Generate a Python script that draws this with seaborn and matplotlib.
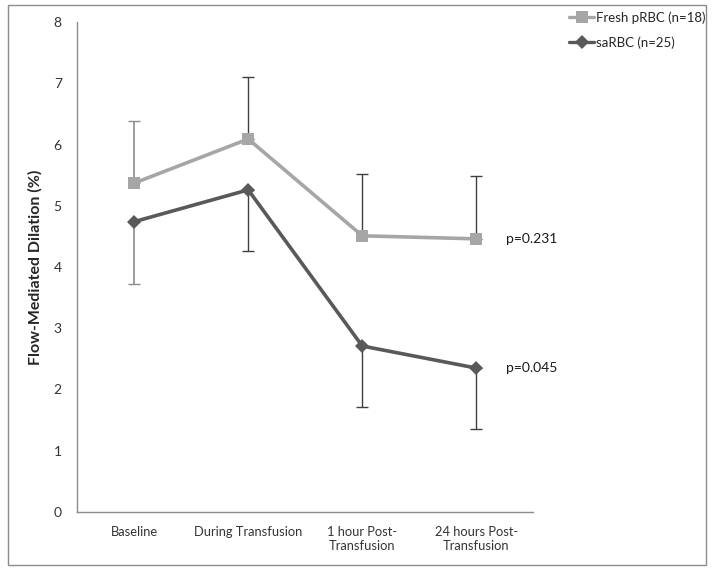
import numpy as np
import pandas as pd
import seaborn as sns
import matplotlib.pyplot as plt
from matplotlib.patches import Rectangle

sns.set_style("white")
plt.rcParams['font.family'] = ['Lato', 'DejaVu Sans']

stages = ["Baseline", "During Transfusion", "1 hour Post-\nTransfusion", "24 hours Post-\nTransfusion"]
fresh = [5.37, 6.09, 4.51, 4.46]
fresh_err = [1.02, 1.02, 1.01, 1.03]
sarbc = [4.74, 5.26, 2.71, 2.35]
sarbc_err = [1.01, 1.0, 1.0, 1.0]
groups = ["Fresh pRBC (n=18)", "saRBC (n=25)"]
pvals = ["p=0.231", "p=0.045"]

df = pd.DataFrame({
    "stage": stages * 2,
    "fmd": fresh + sarbc,
    "group": [groups[0]] * 4 + [groups[1]] * 4,
})

fig = plt.figure(figsize=(7.14, 5.73), dpi=100)
ax = fig.add_axes([0.108, 0.1065, 0.639, 0.855])

# outer chart border like the excel chart area
fig.patches.append(Rectangle((0.011, 0.014), 0.978, 0.977, transform=fig.transFigure,
                             fill=False, edgecolor="#8c8c8c", linewidth=1.0))

xpos = np.arange(len(stages))
# error bars: fresh upward only, saRBC downward only
ax.errorbar(xpos[:1], fresh[:1], yerr=[[0], fresh_err[:1]], fmt="none", ecolor="#8c8c8c",
            elinewidth=1.2, capsize=4, capthick=1.0, zorder=1)
ax.errorbar(xpos[1:], fresh[1:], yerr=[[0] * 3, fresh_err[1:]], fmt="none", ecolor="#404040",
            elinewidth=1.0, capsize=4, capthick=1.0, zorder=1)
ax.errorbar(xpos[:1], sarbc[:1], yerr=[sarbc_err[:1], [0]], fmt="none", ecolor="#8c8c8c",
            elinewidth=1.2, capsize=4, capthick=1.0, zorder=1)
ax.errorbar(xpos[1:], sarbc[1:], yerr=[sarbc_err[1:], [0] * 3], fmt="none", ecolor="#404040",
            elinewidth=1.0, capsize=4, capthick=1.0, zorder=1)

sns.lineplot(data=df, x="stage", y="fmd", hue="group", style="group", sort=False,
             palette=["#a6a6a6", "#595959"], markers=["s", "D"], dashes=False,
             markersize=9, markeredgewidth=0, linewidth=2.6, ax=ax, zorder=3)
for ln in ax.lines:
    if ln.get_marker() == "D":
        ln.set_markersize(7)

ax.text(xpos[-1] + 0.26, fresh[-1], pvals[0], va="center", ha="left", fontsize=10, color="#1a1a1a")
ax.text(xpos[-1] + 0.26, sarbc[-1], pvals[1], va="center", ha="left", fontsize=10, color="#1a1a1a")

ax.set_xlim(-0.5, 3.5)
ax.set_ylim(0, 8)
ax.set_yticks(range(0, 9))
ax.set_xticks(xpos)
ax.set_xticklabels(stages, fontsize=9.3, color="#333333")
ax.set_xticks(np.arange(-0.5, 4, 1), minor=True)
ax.tick_params(axis="x", which="major", length=0, pad=10)
ax.tick_params(axis="x", which="minor", length=5, color="#8c8c8c", direction="in")
ax.tick_params(axis="y", length=5, color="#8c8c8c", direction="out", labelsize=10, labelcolor="#333333", pad=6)
for lbl in ax.get_xticklabels():
    lbl.set_multialignment("center")

ax.set_xlabel("")
ax.set_ylabel("Flow-Mediated Dilation (%)", fontsize=11.5, fontweight="bold", labelpad=8)
sns.despine(ax=ax)
for s in ["left", "bottom"]:
    ax.spines[s].set_color("#8c8c8c")
    ax.spines[s].set_linewidth(1.0)

leg = ax.legend(loc="upper left", bbox_to_anchor=(0.79, 0.99), bbox_transform=fig.transFigure,
                frameon=False, fontsize=9.5, handlelength=1.9, labelspacing=0.95, handletextpad=0.1,
                borderaxespad=0)
for h in leg.legend_handles:
    h.set_linewidth(2.4)

fig.savefig("out.png", dpi=100)
